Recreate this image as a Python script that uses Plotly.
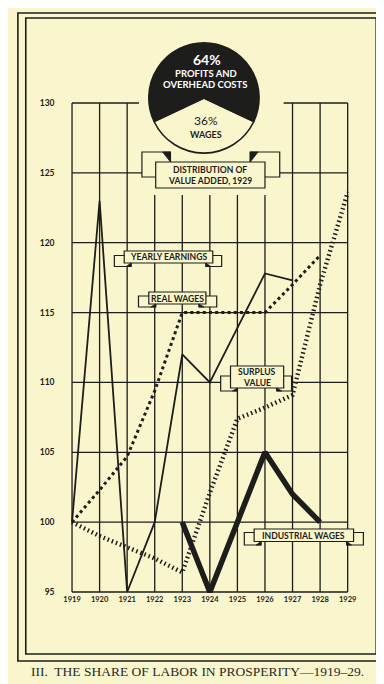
import plotly.graph_objects as go

W, H = 384, 684
BG = "#F9F6CD"
INK = "#1d1d1b"

# ---------------- data ----------------
yearly_earnings_years = [1919, 1920, 1921, 1922, 1923, 1924, 1925, 1926, 1927]
yearly_earnings = [100, 123, 95, 100, 112, 110, 113.9, 117.8, 117.3]

real_wages_years = [1919, 1920, 1921, 1922, 1923, 1924, 1925, 1926, 1927, 1928]
real_wages = [100, 102.3, 104.7, 109.4, 115, 115, 115, 115, 117, 119.1]

surplus_years = [1919, 1920, 1921, 1922, 1923, 1924, 1925, 1926, 1927, 1928, 1929]
surplus_value = [100, 99.0, 98.2, 97.4, 96.4, 102.1, 107.4, 108.2, 109.1, 117.0, 123.6]

industrial_years = [1923, 1924, 1925, 1926, 1927, 1928]
industrial_wages = [100, 95, 100, 105, 102, 100]

pie_labels = ["WAGES", "PROFITS AND OVERHEAD COSTS"]
pie_values = [36, 64]

x_ticks = list(range(1919, 1930))
x_tick_labels = [str(v) for v in x_ticks]
y_ticks = list(range(95, 131, 5))
y_tick_labels = [str(v) for v in y_ticks]

caption = "III.  THE SHARE OF LABOR IN PROSPERITY\u20141919\u201329."

# ---------------- geometry helpers ----------------
X0PX, X1PX = 62.0, 342.0          # 1919, 1929
YTPX, YBPX = 95.0, 584.0          # 130, 95
PPY = (X1PX - X0PX) / 10.0
PPV = (YBPX - YTPX) / 35.0


def xpx(v):
    return X0PX + (v - 1919) * PPY


def ypx(v):
    return YTPX + (130 - v) * PPV


def xval(px):
    return 1919 + (px - X0PX) / PPY


def yval(py):
    return 130 - (py - YTPX) / PPV


def fx(px):
    return px / W


def fy(py):
    return 1 - py / H


XR = [1918.8, 1929.2]
YR = [94.6, 130.4]

fig = go.Figure()

# ---------------- traces ----------------
fig.add_trace(go.Scatter(
    x=yearly_earnings_years, y=yearly_earnings, mode="lines",
    line=dict(color=INK, width=1.8), name="Yearly earnings", hoverinfo="skip"))

fig.add_trace(go.Scatter(
    x=real_wages_years, y=real_wages, mode="lines",
    line=dict(color=INK, width=3, dash="3px,3.2px"), name="Real wages", hoverinfo="skip"))

fig.add_trace(go.Scatter(
    x=surplus_years, y=surplus_value, mode="lines",
    line=dict(color=INK, width=4.4, dash="1.5px,2.9px"), name="Surplus value", hoverinfo="skip"))

fig.add_trace(go.Scatter(
    x=industrial_years, y=industrial_wages, mode="lines",
    line=dict(color=INK, width=5.5), name="Industrial wages", hoverinfo="skip"))

# pie
PCX, PCY, PR = 196.0, 90.0, 56.0
fig.add_trace(go.Pie(
    values=pie_values, labels=pie_labels, sort=False, direction="clockwise",
    rotation=180 - 360 * pie_values[0] / 100 / 2,
    marker=dict(colors=[BG, INK], line=dict(color=INK, width=1.6)),
    textinfo="none", hoverinfo="skip", showlegend=False,
    domain=dict(x=[fx(PCX - PR), fx(PCX + PR)], y=[fy(PCY + PR), fy(PCY - PR)])))

shapes = []

# ---------------- grid ----------------
GW = 1.3
gap_top_px = 187.0
for yr in x_ticks:
    top = 130
    if 1922 <= yr <= 1926:
        top = yval(gap_top_px)
    shapes.append(dict(type="line", xref="x", yref="y", x0=yr, x1=yr, y0=95, y1=top,
                       line=dict(color=INK, width=GW), layer="below"))
for v in y_ticks:
    if v == 130:
        segs = [(1919, xval(130)), (xval(277), 1929)]
    elif v == 125:
        segs = [(1919, xval(133)), (xval(273), 1929)]
    else:
        segs = [(1919, 1929)]
    for a, b in segs:
        shapes.append(dict(type="line", xref="x", yref="y", x0=a, x1=b, y0=v, y1=v,
                           line=dict(color=INK, width=GW), layer="below"))

# ---------------- frame ----------------
for (l, t, r, b) in [(7, 5, 376, 653), (15, 10, 371, 646)]:
    shapes.append(dict(type="rect", xref="paper", yref="paper",
                       x0=fx(l), x1=fx(r), y0=fy(b), y1=fy(t),
                       line=dict(color=INK, width=1.6), fillcolor="rgba(0,0,0,0)"))


def prect(l, t, r, b, fill=BG, lw=1.2):
    shapes.append(dict(type="rect", xref="paper", yref="paper",
                       x0=fx(l), x1=fx(r), y0=fy(b), y1=fy(t),
                       line=dict(color=INK, width=lw), fillcolor=fill))


def ptri(pts):
    d = "M " + " L ".join(f"{fx(a):.5f},{fy(b):.5f}" for a, b in pts) + " Z"
    shapes.append(dict(type="path", xref="paper", yref="paper", path=d,
                       fillcolor=INK, line=dict(color=INK, width=0.8)))


def banner(l, t, r, b, tl, tr, tt, tb, inner, fold, up=False):
    # end tabs behind the main box
    prect(tl, tt, l + inner, tb)
    prect(r - inner, tt, tr, tb)
    prect(l, t, r, b)
    if up:
        ptri([(l + inner - fold, tt), (l + inner, tt), (l + inner, t)])
        ptri([(r - inner + fold, tt), (r - inner, tt), (r - inner, t)])
    else:
        ptri([(l + inner - fold, tb), (l + inner, tb), (l + inner, b)])
        ptri([(r - inner + fold, tb), (r - inner, tb), (r - inner, b)])


banner(147, 154, 258, 180, 133, 273, 144, 169, 15, 8, up=True)
banner(115, 243, 205, 255, 105, 214, 247.5, 258.5, 7, 5)
banner(140, 284, 198, 296, 129.5, 209, 288, 299, 7, 5)
banner(223, 358, 277, 380, 213, 285, 368, 383, 7, 5)
banner(247, 521, 348, 533.5, 237, 358, 524.5, 537, 7, 5)

annotations = []


def label(text, px, py, size=9, color=INK, family="Lato", weight="bold"):
    annotations.append(dict(text=text, x=fx(px), y=fy(py), xref="paper", yref="paper",
                            showarrow=False, xanchor="center", yanchor="middle",
                            font=dict(family=family, size=size, color=color, weight=weight)))


label("YEARLY EARNINGS", 160, 249.5, size=8.6)
label("REAL WAGES", 169, 290.5, size=8.6)
label("SURPLUS", 250, 364, size=8.6)
label("VALUE", 250, 374.5, size=8.6)
label("INDUSTRIAL WAGES", 297.5, 527.5, size=8.6)
label("DISTRIBUTION OF", 202.5, 161.5, size=8.6)
label("VALUE ADDED, 1929", 202.5, 173, size=8.6)

label("64%", 199, 52, size=14, color="white", weight="bold")
label("PROFITS AND", 198, 66, size=9.5, color="white", weight="bold")
label("OVERHEAD COSTS", 197, 77, size=9.5, color="white", weight="bold")
label("36%", 198, 112, size=12, color=INK, weight="normal")
label("WAGES", 198, 127, size=9, color=INK)

label(caption, 189, 663, size=13.5, color="#2a2a2a", family="Liberation Serif", weight="normal")

fig.update_layout(
    width=W, height=H, margin=dict(l=0, r=0, t=0, b=0),
    paper_bgcolor=BG, plot_bgcolor="rgba(0,0,0,0)", showlegend=False,
    shapes=shapes, annotations=annotations,
    xaxis=dict(domain=[fx(xpx(XR[0])), fx(xpx(XR[1]))], range=XR, showgrid=False,
               zeroline=False, showline=False, tickmode="array", tickvals=x_ticks,
               ticktext=x_tick_labels, ticks="", ticklabelstandoff=-4,
               tickfont=dict(family="Lato", size=7.5, color=INK, weight="bold"), fixedrange=True),
    yaxis=dict(domain=[fy(ypx(YR[0])), fy(ypx(YR[1]))], range=YR, showgrid=False,
               zeroline=False, showline=False, tickmode="array", tickvals=y_ticks,
               ticktext=y_tick_labels, ticks="", ticklabelstandoff=11,
               tickfont=dict(family="Lato", size=8.5, color=INK, weight="bold"), fixedrange=True),
)

fig.write_html("out.html")
